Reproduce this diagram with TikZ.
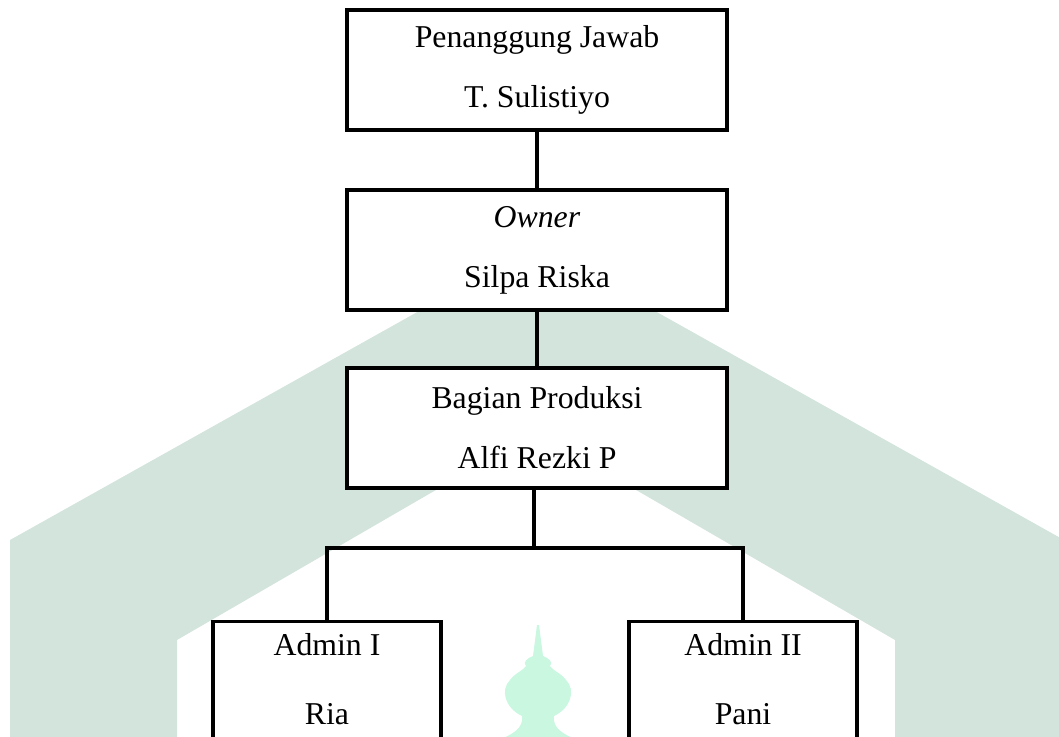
\documentclass[tikz,border=0pt]{standalone}
\usepackage{fontspec}
\setmainfont{Liberation Serif}
\usetikzlibrary{calc}
\definecolor{bandgreen}{RGB}{211,228,220}
\definecolor{domegreen}{RGB}{201,247,224}

\begin{document}
\begin{tikzpicture}[x=0.387pt,y=-0.387pt,
orgbox/.style={draw,line width=1.3pt,fill=white,align=center,minimum width=147pt,minimum height=46.4pt,font=\fontsize{12.3}{23.2}\selectfont},
adminbox/.style={draw,line width=1.3pt,fill=white,align=center,anchor=north,minimum width=88.2pt,inner ysep=4.6pt,text depth=30pt,font=\fontsize{12.3}{26.7}\selectfont},
link/.style={line width=1.3pt}]%
\clip (0,0) rectangle (1059,736);%
\fill[bandgreen] (10,740) -- (10,540) -- (537,245) -- (1064,540) -- (1064,740) -- (895,740) -- (895,640) -- (536,432) -- (177,640) -- (177,740) -- cycle;%
\fill[domegreen] (498,740) .. controls (512,735) and (524,728) .. (522,716) .. controls (505,708) and (500,690) .. (510,680) .. controls (515,673) and (524,670) .. (526,666) .. controls (522,662) and (528,658) .. (533,656) -- (537,625) -- (539,625) -- (543,656) .. controls (548,658) and (554,662) .. (550,666) .. controls (552,670) and (561,673) .. (566,680) .. controls (576,690) and (571,708) .. (554,716) .. controls (552,728) and (564,735) .. (578,740) -- cycle;%
\node[orgbox] (pj) at (537,70) {Penanggung Jawab\\T. Sulistiyo};%
\node[orgbox] (owner) at (537,250) {\textit{Owner}\\Silpa Riska};%
\node[orgbox] (prod) at (537,428) {Bagian Produksi\\Alfi Rezki P};%
\node[adminbox] (adm1) at (327,620) {Admin I\\Ria};%
\node[adminbox] (adm2) at (743,620) {Admin II\\Pani};%
\coordinate (split) at (534,548);%
\draw[link] (pj.south) -- (owner.north);%
\draw[link] (owner.south) -- (prod.north);%
\draw[link] (prod.south -| split) -- (split);%
\draw[link] (adm1.north) |- (split) -| (adm2.north);%
\end{tikzpicture}
\end{document}
